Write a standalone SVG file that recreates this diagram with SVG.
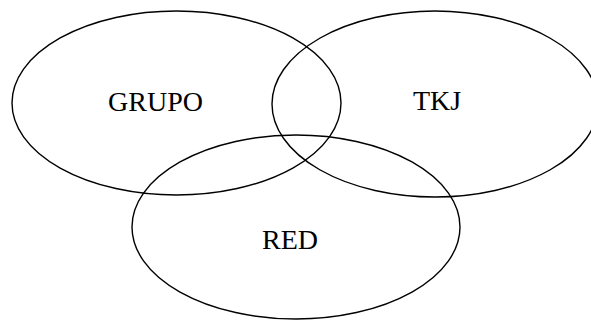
<svg xmlns="http://www.w3.org/2000/svg" width="591" height="320" viewBox="0 0 591 320">
<style>
.set{fill:none;stroke:#000;stroke-width:1.4}
.lbl{font-family:"Liberation Serif","Times New Roman",serif;font-size:28px;fill:#000;text-anchor:middle}
</style>
<rect width="591" height="320" fill="#fff"/>
<g id="grupo">
<ellipse class="set" cx="176.5" cy="103" rx="164.5" ry="92"/>
<text class="lbl" x="155.5" y="111">GRUPO</text>
</g>
<g id="tkj">
<ellipse class="set" cx="435" cy="104" rx="163" ry="93"/>
<text class="lbl" x="437" y="110">TKJ</text>
</g>
<g id="red">
<ellipse class="set" cx="296" cy="227" rx="164" ry="92"/>
<text class="lbl" x="290" y="249">RED</text>
</g>
<g id="connectors"/>
</svg>
